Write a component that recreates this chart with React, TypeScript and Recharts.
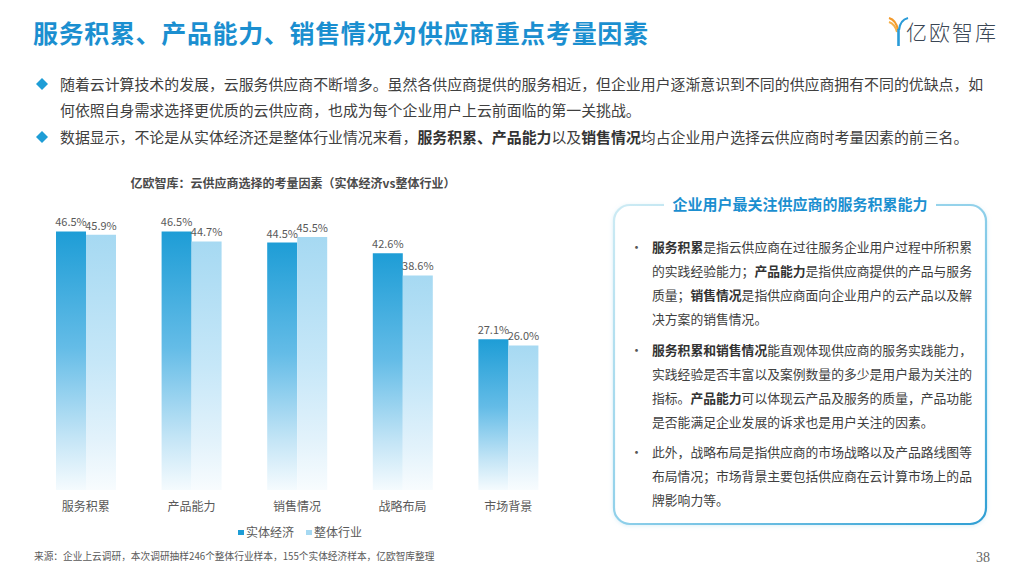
import React from 'react';
import { BarChart, Bar, XAxis, YAxis, LabelList } from 'recharts';

const categories = ['服务积累', '产品能力', '销售情况', '战略布局', '市场背景'];
const seriesNames = ['实体经济', '整体行业'];
const realEconomy = [46.5, 46.5, 44.5, 42.6, 27.1];
const wholeIndustry = [45.9, 44.7, 45.5, 38.6, 26.0];

const chartData = categories.map((name, i) => ({
  name,
  real: realEconomy[i],
  whole: wholeIndustry[i],
}));

const FONT = '"Noto Sans CJK SC", "Noto Sans", sans-serif';
const BLUE = '#1E9DD6';
const LIGHT = '#A6D9F2';
const TEXT = '#404040';

const fmt = (v: any) => (typeof v === 'number' ? `${v.toFixed(1)}%` : v);

type Run = { t: string; b?: boolean };

const boxParas: Run[][][] = [
  [
    [{ t: '服务积累', b: true }, { t: '是指云供应商在过往服务企业用户过程中所积累' }],
    [{ t: '的实践经验能力；' }, { t: '产品能力', b: true }, { t: '是指供应商提供的产品与服务' }],
    [{ t: '质量；' }, { t: '销售情况', b: true }, { t: '是指供应商面向企业用户的云产品以及解' }],
    [{ t: '决方案的销售情况。' }],
  ],
  [
    [{ t: '服务积累和销售情况', b: true }, { t: '能直观体现供应商的服务实践能力，' }],
    [{ t: '实践经验是否丰富以及案例数量的多少是用户最为关注的' }],
    [{ t: '指标。' }, { t: '产品能力', b: true }, { t: '可以体现云产品及服务的质量，产品功能' }],
    [{ t: '是否能满足企业发展的诉求也是用户关注的因素。' }],
  ],
  [
    [{ t: '此外，战略布局是指供应商的市场战略以及产品路线图等' }],
    [{ t: '布局情况；市场背景主要包括供应商在云计算市场上的品' }],
    [{ t: '牌影响力等。' }],
  ],
];
const paraTops = [247, 350, 452];

function Diamond({ x, y }: { x: number; y: number }) {
  return (
    <div
      style={{
        position: 'absolute',
        left: x - 5,
        top: y - 5,
        width: 10,
        height: 10,
        background: BLUE,
        transform: 'rotate(45deg) scale(0.85)',
      }}
    />
  );
}

export default function App() {
  return (
    <div
      style={{
        position: 'absolute',
        left: 0,
        top: 0,
        width: 1024,
        height: 573,
        background: '#fff',
        fontFamily: FONT,
        color: TEXT,
        overflow: 'hidden',
      }}
    >
      {/* title */}
      <div
        style={{
          position: 'absolute',
          left: 33,
          top: 14,
          fontSize: 25,
          lineHeight: '36px',
          fontWeight: 700,
          letterSpacing: 0.65,
          color: '#1B8FD0',
          whiteSpace: 'nowrap',
        }}
      >
        服务积累、产品能力、销售情况为供应商重点考量因素
      </div>

      {/* logo */}
      <svg style={{ position: 'absolute', left: 886, top: 14 }} width={24} height={34}>
        <path d="M3 4 Q10 6 12 16" stroke="#F39A2B" strokeWidth={2.2} fill="none" />
        <path d="M3 8 Q9 10 11 18" stroke="#F5B04A" strokeWidth={2} fill="none" />
        <path d="M22 4 Q14 6 13 16" stroke="#2A9BD8" strokeWidth={2.2} fill="none" />
        <path d="M12.5 15 L12.5 32" stroke="#2A9BD8" strokeWidth={2.6} />
      </svg>
      <div
        style={{
          position: 'absolute',
          left: 906,
          top: 17,
          fontSize: 21,
          lineHeight: '28px',
          color: '#3A4654',
          fontWeight: 300,
          letterSpacing: 2,
          whiteSpace: 'nowrap',
        }}
      >
        亿欧智库
      </div>

      {/* intro bullets */}
      <Diamond x={42} y={84} />
      <Diamond x={42} y={137} />
      {[
        { y: 84, c: '随着云计算技术的发展，云服务供应商不断增多。虽然各供应商提供的服务相近，但企业用户逐渐意识到不同的供应商拥有不同的优缺点，如' },
        { y: 110, c: '何依照自身需求选择更优质的云供应商，也成为每个企业用户上云前面临的第一关挑战。' },
      ].map((l) => (
        <div
          key={l.y}
          style={{ position: 'absolute', left: 60, top: l.y - 13, fontSize: 14.9, lineHeight: '26px', whiteSpace: 'nowrap' }}
        >
          {l.c}
        </div>
      ))}
      <div style={{ position: 'absolute', left: 60, top: 137 - 13, fontSize: 14.9, lineHeight: '26px', whiteSpace: 'nowrap' }}>
        数据显示，不论是从实体经济还是整体行业情况来看，
        <b style={{ color: '#333' }}>服务积累、产品能力</b>以及<b style={{ color: '#333' }}>销售情况</b>
        均占企业用户选择云供应商时考量因素的前三名。
      </div>

      {/* chart title */}
      <div
        style={{
          position: 'absolute',
          left: 0,
          width: 586,
          top: 174,
          textAlign: 'center',
          fontSize: 12,
          lineHeight: '18px',
          fontWeight: 700,
          color: '#4A4A4A',
        }}
      >
        亿欧智库：云供应商选择的考量因素（实体经济vs整体行业）
      </div>

      <div style={{ position: 'absolute', left: 0, top: 150 }}>
        <BarChart
          width={600}
          height={400}
          data={chartData}
          margin={{ top: 62, right: 39, bottom: 30, left: 33 }}
          barGap={0}
          barSize={30}
        >
          <defs>
            <linearGradient id="gradReal" x1="0" y1="0" x2="0" y2="1">
              <stop offset="0%" stopColor="#1E9DD6" />
              <stop offset="45%" stopColor="#64BCE7" />
              <stop offset="80%" stopColor="#C4E5F6" />
              <stop offset="100%" stopColor="#F5FBFE" />
            </linearGradient>
            <linearGradient id="gradWhole" x1="0" y1="0" x2="0" y2="1">
              <stop offset="0%" stopColor="#A6D9F2" />
              <stop offset="50%" stopColor="#C6E7F8" />
              <stop offset="80%" stopColor="#E2F2FB" />
              <stop offset="100%" stopColor="#F8FCFE" />
            </linearGradient>
          </defs>
          <XAxis
            dataKey="name"
            axisLine={false}
            tickLine={false}
            tickMargin={6}
            height={30}
            interval={0}
            tick={{ fontSize: 12, fill: '#595959', fontFamily: FONT }}
          />
          <YAxis hide domain={[0, 50]} />
          <Bar dataKey="real" name={seriesNames[0]} fill="url(#gradReal)" isAnimationActive={false}>
            <LabelList dataKey="real" position="top" offset={5} formatter={fmt} fontSize={11} fill="#595959" fontFamily={FONT} />
          </Bar>
          <Bar dataKey="whole" name={seriesNames[1]} fill="url(#gradWhole)" isAnimationActive={false}>
            <LabelList dataKey="whole" position="top" offset={5} formatter={fmt} fontSize={11} fill="#595959" fontFamily={FONT} />
          </Bar>
        </BarChart>
      </div>

      {/* legend */}
      <div
        style={{
          position: 'absolute',
          left: 0,
          width: 600,
          top: 523,
          display: 'flex',
          justifyContent: 'center',
          gap: 12,
          fontSize: 12,
          lineHeight: '18px',
          color: '#595959',
        }}
      >
        {seriesNames.map((n, i) => (
          <div key={n} style={{ display: 'flex', alignItems: 'center' }}>
            <span style={{ display: 'inline-block', width: 6, height: 5, background: i === 0 ? BLUE : LIGHT, marginRight: 2 }} />
            {n}
          </div>
        ))}
      </div>

      {/* right box */}
      <svg style={{ position: 'absolute', left: 608, top: 198 }} width={386} height={334}>
        <defs>
          <linearGradient id="boxBorder" x1="0" y1="0" x2="1" y2="1">
            <stop offset="0%" stopColor="#CDEBF4" />
            <stop offset="50%" stopColor="#8FD0EA" />
            <stop offset="100%" stopColor="#2F9FD4" />
          </linearGradient>
          <filter id="glow" x="-5%" y="-5%" width="110%" height="110%">
            <feDropShadow dx="0" dy="1" stdDeviation="2" floodColor="#9fd3ea" floodOpacity="0.35" />
          </filter>
        </defs>
        <rect x={6} y={7} width={372} height={319} rx={16} fill="#fff" stroke="url(#boxBorder)" strokeWidth={2.2} filter="url(#glow)" />
        <rect x={56} y={0} width={272} height={14} fill="#fff" />
      </svg>
      <div
        style={{
          position: 'absolute',
          left: 614,
          width: 372,
          top: 194,
          textAlign: 'center',
          fontSize: 15,
          lineHeight: '20px',
          fontWeight: 700,
          color: '#1B8FD0',
        }}
      >
        企业用户最关注供应商的服务积累能力
      </div>
      {boxParas.map((p, pi) => (
        <React.Fragment key={pi}>
          <div style={{ position: 'absolute', left: 630, top: paraTops[pi] - 12, fontSize: 13, lineHeight: '24px', color: '#555' }}>•</div>
          {p.map((line, li) => (
            <div
              key={li}
              style={{
                position: 'absolute',
                left: 652,
                top: paraTops[pi] + li * 24 - 12,
                fontSize: 12.8,
                lineHeight: '24px',
                whiteSpace: 'nowrap',
              }}
            >
              {line.map((r, ri) =>
                r.b ? (
                  <b key={ri} style={{ color: '#333' }}>
                    {r.t}
                  </b>
                ) : (
                  <span key={ri}>{r.t}</span>
                ),
              )}
            </div>
          ))}
        </React.Fragment>
      ))}

      {/* footnote */}
      <div style={{ position: 'absolute', left: 34, top: 549, fontSize: 9.7, lineHeight: '14px', color: '#595959', whiteSpace: 'nowrap' }}>
        来源：企业上云调研，本次调研抽样246个整体行业样本，155个实体经济样本，亿欧智库整理
      </div>
      <div style={{ position: 'absolute', left: 976, top: 549, fontSize: 14, lineHeight: '18px', color: '#666', fontFamily: '"Liberation Serif", serif' }}>
        38
      </div>
    </div>
  );
}
